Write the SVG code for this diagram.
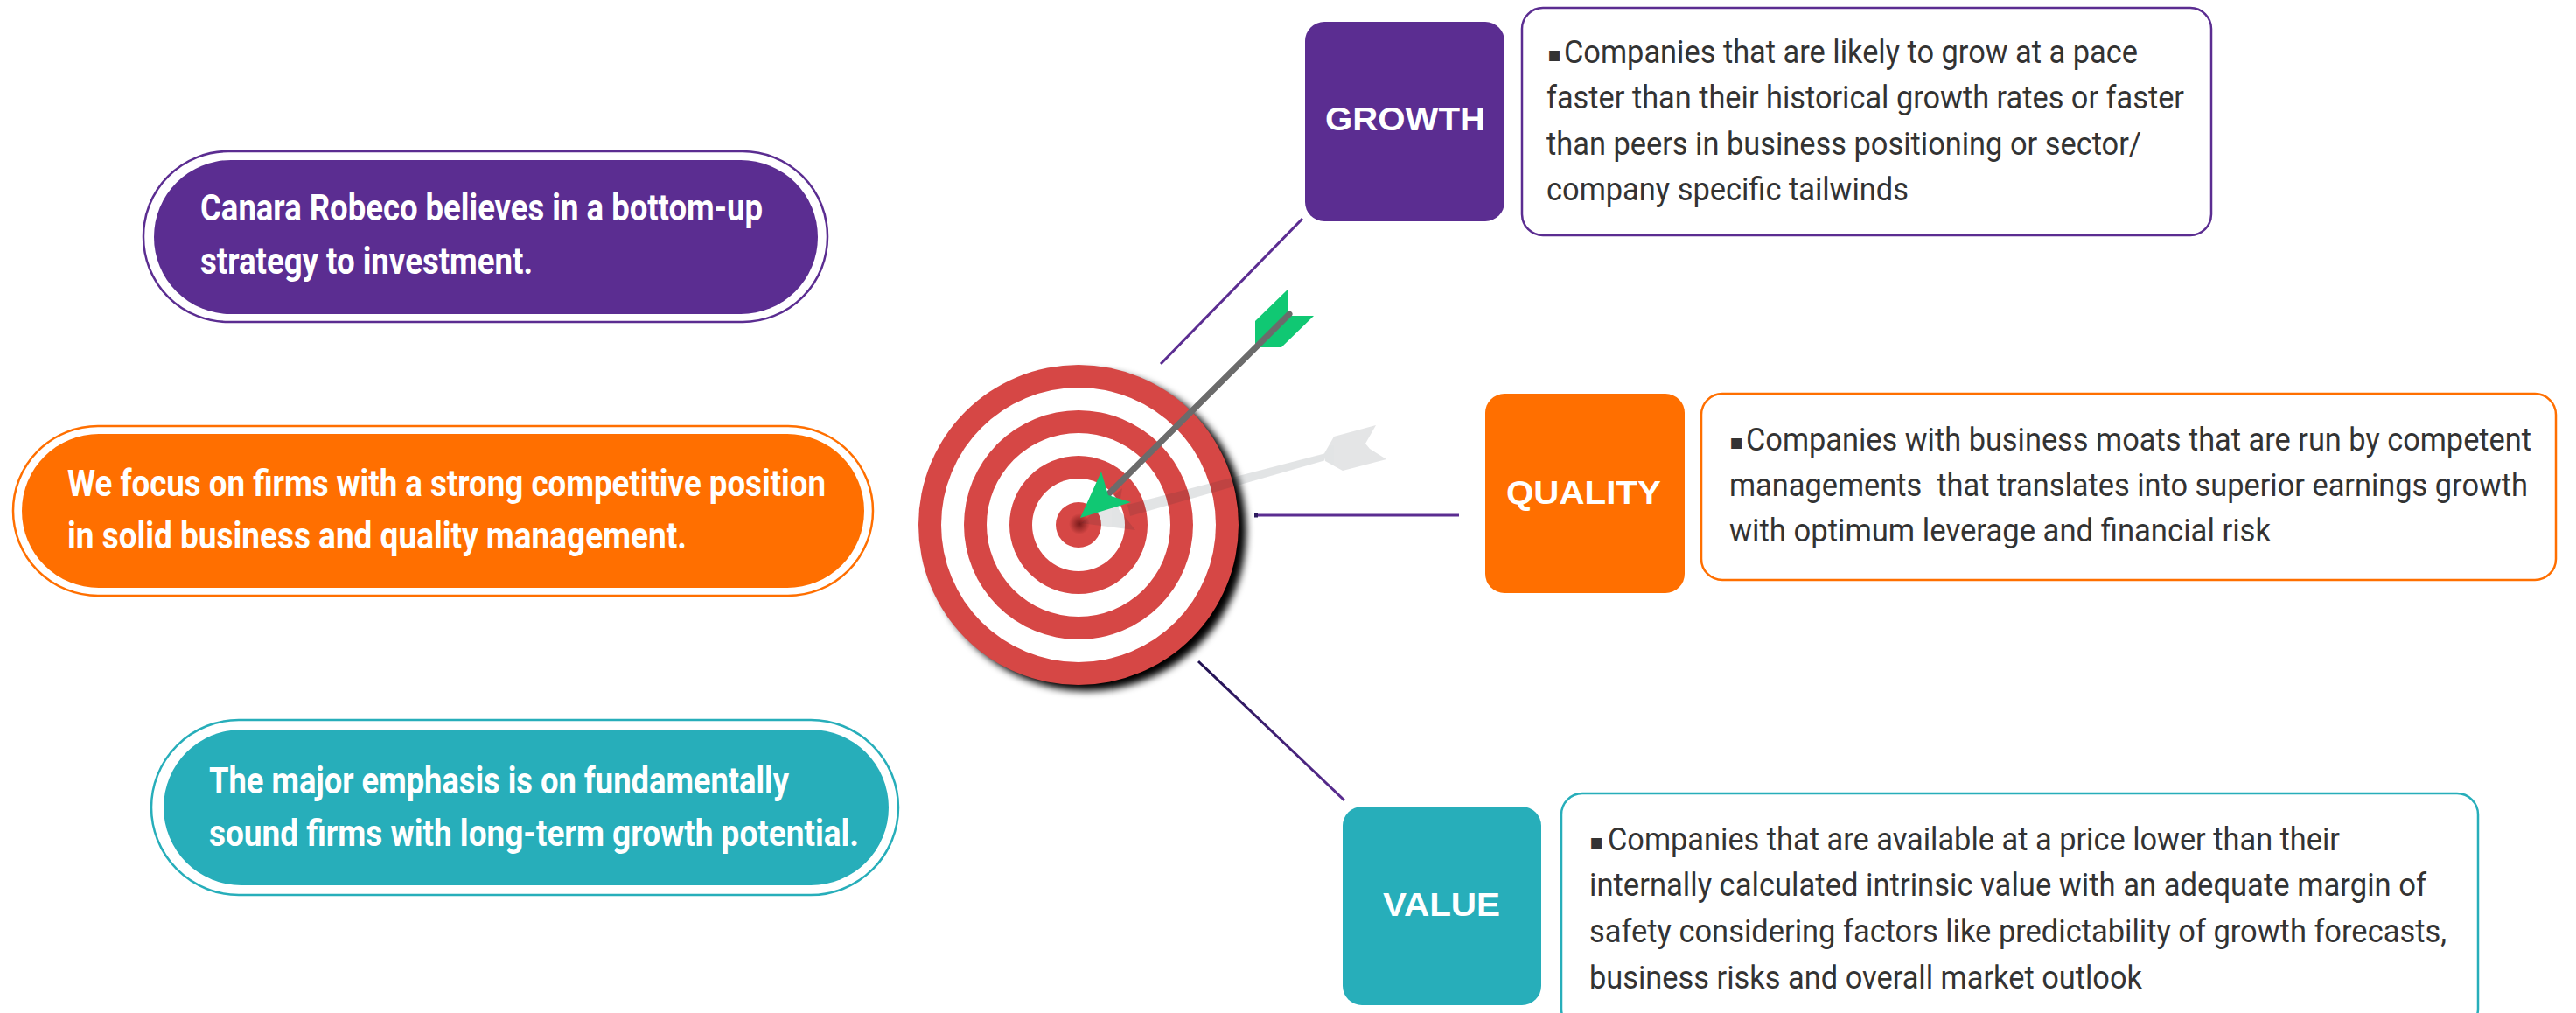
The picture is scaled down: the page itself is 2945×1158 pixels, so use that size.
<svg xmlns="http://www.w3.org/2000/svg" width="2945" height="1158" viewBox="0 0 2945 1158">
  <defs>
    <style>
      .pill-text { font-family: Roboto, "Liberation Sans", sans-serif; font-weight: 700; font-size: 42px; fill: #ffffff; }
      .desc { font-family: Roboto, "Liberation Sans", sans-serif; font-size: 36px; fill: #333333; }
      .bullet { font-family: "DejaVu Sans", sans-serif; font-size: 24px; fill: #333333; }
      .tag { font-family: "Liberation Sans", Arial, sans-serif; font-weight: 700; font-size: 37px; fill: #ffffff; }
      .conn { fill: none; stroke-width: 3; }
    </style>
    <filter id="soft-shadow" x="-20%" y="-20%" width="140%" height="140%">
      <feGaussianBlur stdDeviation="4"/>
    </filter>
    <radialGradient id="bull-dot" cx="0.5" cy="0.5" r="0.5">
      <stop offset="0" stop-color="#5a0c0c" stop-opacity="0.75"/>
      <stop offset="1" stop-color="#5a0c0c" stop-opacity="0"/>
    </radialGradient>
    <linearGradient id="value-line" gradientUnits="userSpaceOnUse" x1="1370" y1="756" x2="1537" y2="915">
      <stop offset="0" stop-color="#1f1050"/>
      <stop offset="1" stop-color="#5b2d91"/>
    </linearGradient>
  </defs>

  <rect width="2945" height="1158" fill="#ffffff"/>

  <!-- left statement pills -->
  <g id="pill-bottom-up">
    <rect x="164" y="173" width="782" height="195" rx="97" fill="none" stroke="#5b2d91" stroke-width="2.5"/>
    <rect x="176" y="183" width="759" height="176" rx="88" fill="#5b2d91"/>
    <text class="pill-text" x="229" y="252" textLength="643" lengthAdjust="spacingAndGlyphs">Canara Robeco believes in a bottom-up</text>
    <text class="pill-text" x="229" y="313" textLength="380" lengthAdjust="spacingAndGlyphs">strategy to investment.</text>
  </g>

  <g id="pill-focus">
    <rect x="15" y="487" width="983" height="194" rx="97" fill="none" stroke="#ff6f00" stroke-width="2.5"/>
    <rect x="25" y="496" width="963" height="176" rx="88" fill="#ff6f00"/>
    <text class="pill-text" x="77" y="567" textLength="867" lengthAdjust="spacingAndGlyphs">We focus on firms with a strong competitive position</text>
    <text class="pill-text" x="77" y="627" textLength="708" lengthAdjust="spacingAndGlyphs">in solid business and quality management.</text>
  </g>

  <g id="pill-emphasis">
    <rect x="173" y="823" width="854" height="200" rx="100" fill="none" stroke="#27aeba" stroke-width="2.5"/>
    <rect x="187" y="834" width="829" height="178" rx="89" fill="#27aeba"/>
    <text class="pill-text" x="239" y="907" textLength="663" lengthAdjust="spacingAndGlyphs">The major emphasis is on fundamentally</text>
    <text class="pill-text" x="239" y="967" textLength="743" lengthAdjust="spacingAndGlyphs">sound firms with long-term growth potential.</text>
  </g>

  <!-- connectors from the target to the three pillars -->
  <g id="connectors">
    <line class="conn" x1="1327" y1="416" x2="1489" y2="250" stroke="#5b2d91"/>
    <line class="conn" x1="1435" y1="589" x2="1668" y2="589" stroke="#5b2d91"/>
    <rect x="1434" y="586.5" width="4" height="5" fill="#2d1b5e"/>
    <line class="conn" x1="1370" y1="756" x2="1537" y2="915" stroke="url(#value-line)"/>
  </g>

  <!-- target with arrows -->
  <g id="target">
    <circle cx="1242" cy="607" r="183" fill="#000000" filter="url(#soft-shadow)"/>
    <circle cx="1233" cy="600" r="183" fill="#d64745"/>
    <circle cx="1233" cy="600" r="157" fill="#ffffff"/>
    <circle cx="1233" cy="600" r="131" fill="#d64745"/>
    <circle cx="1233" cy="600" r="105" fill="#ffffff"/>
    <circle cx="1233" cy="600" r="79" fill="#d64745"/>
    <circle cx="1233" cy="600" r="53" fill="#ffffff"/>
    <circle cx="1233" cy="600" r="26" fill="#d64745"/>
    <circle cx="1234" cy="599" r="12" fill="url(#bull-dot)"/>

    <!-- faded missed arrow -->
    <g opacity="0.12" fill="#1e2a33">
      <polygon points="1514,518.5 1514,526.5 1292,590 1289,577"/>
      <polygon points="1236,598 1283,558 1279,582 1298,606"/>
      <polygon points="1513,520 1525,499 1573,486 1561,507 1566,513 1585,525 1535,538 1515,527"/>
    </g>

    <!-- green arrow in the bullseye -->
    <g id="arrow">
      <polygon points="1435,367 1472,331 1472,362 1435,397" fill="#10c873"/>
      <polygon points="1473,361 1502,361 1465,397 1437,397" fill="#10c873"/>
      <line x1="1474" y1="359" x2="1267" y2="565" stroke="#6b6b6b" stroke-width="7" stroke-linecap="round"/>
      <polygon points="1235,592 1259,539 1267,566 1293,574" fill="#10c873"/>
    </g>
  </g>

  <!-- GROWTH pillar -->
  <g id="growth">
    <rect x="1492" y="25" width="228" height="228" rx="22" fill="#5b2d91"/>
    <text class="tag" x="1515" y="149" textLength="183" lengthAdjust="spacingAndGlyphs">GROWTH</text>
  </g>
  <g id="growth-detail">
    <rect x="1740" y="9" width="788" height="260" rx="24" fill="#ffffff" stroke="#5b2d91" stroke-width="2.5"/>
    <text class="bullet" x="1769" y="70">▪</text>
    <text class="desc" x="1788" y="72" textLength="656" lengthAdjust="spacingAndGlyphs">Companies that are likely to grow at a pace</text>
    <text class="desc" x="1768" y="124" textLength="729" lengthAdjust="spacingAndGlyphs">faster than their historical growth rates or faster</text>
    <text class="desc" x="1768" y="177" textLength="680" lengthAdjust="spacingAndGlyphs">than peers in business positioning or sector/</text>
    <text class="desc" x="1768" y="229" textLength="414" lengthAdjust="spacingAndGlyphs">company specific tailwinds</text>
  </g>

  <!-- QUALITY pillar -->
  <g id="quality">
    <rect x="1698" y="450" width="228" height="228" rx="22" fill="#ff6f00"/>
    <text class="tag" x="1722" y="576" textLength="177" lengthAdjust="spacingAndGlyphs">QUALITY</text>
  </g>
  <g id="quality-detail">
    <rect x="1945" y="450" width="977" height="213" rx="24" fill="#ffffff" stroke="#ff6f00" stroke-width="2.5"/>
    <text class="bullet" x="1977" y="513">▪</text>
    <text class="desc" x="1996" y="515" textLength="898" lengthAdjust="spacingAndGlyphs">Companies with business moats that are run by competent</text>
    <text class="desc" x="1977" y="567" textLength="913" lengthAdjust="spacingAndGlyphs" xml:space="preserve">managements  that translates into superior earnings growth</text>
    <text class="desc" x="1977" y="619" textLength="619" lengthAdjust="spacingAndGlyphs">with optimum leverage and financial risk</text>
  </g>

  <!-- VALUE pillar -->
  <g id="value">
    <rect x="1535" y="922" width="227" height="227" rx="22" fill="#27aeba"/>
    <text class="tag" x="1581" y="1047" textLength="134" lengthAdjust="spacingAndGlyphs">VALUE</text>
  </g>
  <g id="value-detail">
    <rect x="1785" y="907" width="1048" height="270" rx="24" fill="#ffffff" stroke="#27aeba" stroke-width="2.5"/>
    <text class="bullet" x="1817" y="970">▪</text>
    <text class="desc" x="1838" y="972" textLength="837" lengthAdjust="spacingAndGlyphs">Companies that are available at a price lower than their</text>
    <text class="desc" x="1817" y="1024" textLength="957" lengthAdjust="spacingAndGlyphs">internally calculated intrinsic value with an adequate margin of</text>
    <text class="desc" x="1817" y="1077" textLength="980" lengthAdjust="spacingAndGlyphs">safety considering factors like predictability of growth forecasts,</text>
    <text class="desc" x="1817" y="1130" textLength="632" lengthAdjust="spacingAndGlyphs">business risks and overall market outlook</text>
  </g>
</svg>
